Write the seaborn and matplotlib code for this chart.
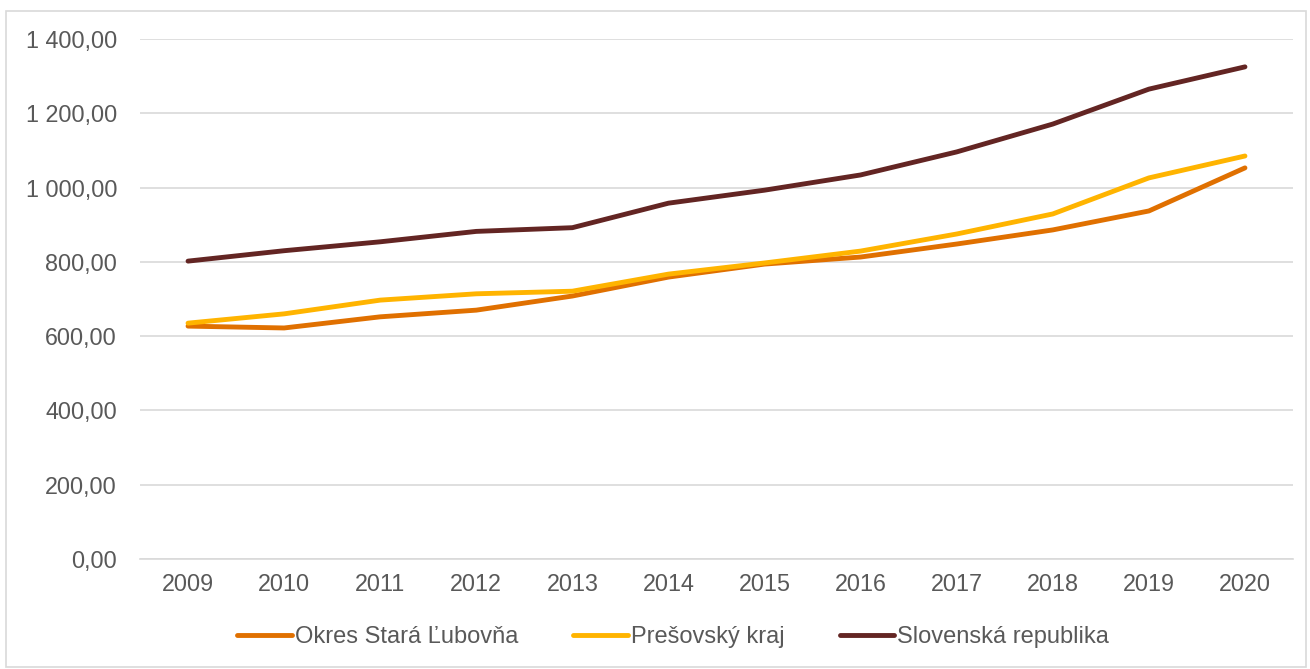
import matplotlib
matplotlib.use("Agg")
import matplotlib.pyplot as plt
import matplotlib.ticker as mticker
import seaborn as sns
import pandas as pd

years = [2009, 2010, 2011, 2012, 2013, 2014, 2015, 2016, 2017, 2018, 2019, 2020]
okres = [627, 622, 652, 670, 708, 759, 794, 813, 848, 886, 937, 1053]
presov = [635, 660, 697, 714, 721, 767, 797, 829, 875, 929, 1026, 1085]
slovensko = [802, 830, 854, 882, 892, 958, 993, 1034, 1096, 1171, 1265, 1325]
series_names = ["Okres Stará Ľubovňa", "Prešovský kraj", "Slovenská republika"]
colors = ["#E07000", "#FFB400", "#632523"]

rows = []
for name, vals in zip(series_names, [okres, presov, slovensko]):
    for y, v in zip(years, vals):
        rows.append({"rok": str(y), "hodnota": v, "séria": name})
df = pd.DataFrame(rows)

sns.set_theme(style="white")
plt.rcParams["font.family"] = ["Liberation Sans", "DejaVu Sans"]

fig = plt.figure(figsize=(13.10, 6.69), dpi=100)
ax = fig.add_axes([140 / 1310, 1 - 559 / 669, (1293 - 140) / 1310, (559 - 39) / 669])

sns.lineplot(data=df, x="rok", y="hodnota", hue="séria", palette=colors,
             linewidth=3.5, ax=ax, sort=False, legend=True)
for ln in ax.lines:
    ln.set_solid_capstyle("round")

ax.set_ylim(0, 1400)
ax.set_xlim(-0.5, len(years) - 0.5)
ax.yaxis.set_major_locator(mticker.MultipleLocator(200))
ax.yaxis.set_major_formatter(mticker.FuncFormatter(
    lambda v, p: f"{v:,.2f}".replace(",", " ").replace(".", ",")))
ax.grid(axis="y", color="#D9D9D9", linewidth=1.2)
ax.set_axisbelow(True)
for s in ["top", "right", "left"]:
    ax.spines[s].set_visible(False)
ax.spines["bottom"].set_color("#D9D9D9")
ax.spines["bottom"].set_linewidth(1.2)
ax.tick_params(axis="both", length=0, labelsize=16.8, labelcolor="#595959")
ax.tick_params(axis="y", pad=16.5)
ax.tick_params(axis="x", pad=10)
ax.set_xlabel("")
ax.set_ylabel("")

handles, labels = ax.get_legend_handles_labels()
ax.get_legend().remove()
leg = fig.legend(handles, labels, loc="center",
                 bbox_to_anchor=(0.5 + 18 / 1310, 1 - 637 / 669),
                 ncol=3, frameon=False, fontsize=17, handlelength=2.3,
                 handletextpad=0.12, columnspacing=2.35)
for t in leg.get_texts():
    t.set_color("#595959")
for h in leg.get_lines():
    h.set_linewidth(3.5)
    h.set_solid_capstyle("round")

border = plt.Rectangle((6 / 1310, 1 - 667 / 669), 1300 / 1310, 656 / 669,
                       transform=fig.transFigure, fill=False,
                       edgecolor="#D9D9D9", linewidth=1.2)
fig.add_artist(border)

fig.savefig("out.png", dpi=100)
